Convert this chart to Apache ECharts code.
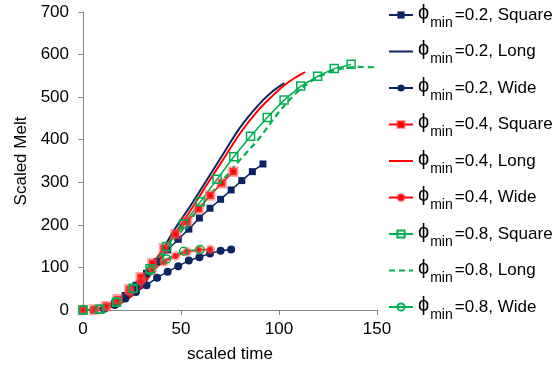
<!DOCTYPE html>
<html>
<head>
<meta charset="utf-8">
<script src="https://cdn.jsdelivr.net/npm/echarts@6/dist/echarts.min.js"></script>
<style>
  html, body { margin: 0; padding: 0; background: #ffffff; }
  #chart { width: 553px; height: 372px; }
</style>
</head>
<body>
<div id="chart"></div>
<script>
// ---- data: scaled time (x) and scaled melt (y) for each case ----
const xTicks = [0, 50, 100, 150];
const yTicks = [0, 100, 200, 300, 400, 500, 600, 700];

// phi_min = 0.2
const tSquare02 = [0, 5.4, 10.8, 16.2, 21.6, 27, 32.4, 37.8, 43.2, 48.6, 54, 59.4, 64.8, 70.2, 75.6, 81, 86.4, 91.8];
const mSquare02 = [0, 0, 4, 16, 34, 58, 86, 114, 141, 166, 190, 216, 239, 260, 282, 304, 325, 343];
const tLong02 = [0, 10, 20, 30, 40, 46, 55, 63, 72, 80, 89, 96, 102.7];
const mLong02 = [0, 3, 20, 62, 136, 184, 246, 304, 370, 428, 479, 511, 533];
const tWide02 = [0, 5.4, 10.8, 16.2, 21.6, 27, 32.4, 37.8, 43.2, 48.6, 54, 59.4, 64.8, 70.2, 75.6];
const mWide02 = [0, 0, 3, 12, 27, 42, 58, 76, 90, 103, 116, 124, 133, 139, 142];

// phi_min = 0.4
const tSquare04 = [0, 5.9, 11.8, 17.7, 23.6, 29.5, 35.4, 41.3, 47.2, 53.1, 59, 64.9, 70.8, 76.7];
const mSquare04 = [0, 1, 9, 25, 49, 77, 110, 145, 178, 208, 238, 269, 298, 325];
const tLong04 = [0, 10, 20, 30, 40, 46, 55, 63, 72, 80, 89, 96, 103, 108, 113.3];
const mLong04 = [0, 3, 18, 55, 124, 172, 235, 293, 357, 414, 467, 500, 529, 545, 559];
const tWide04 = [0, 5.9, 11.8, 17.7, 23.6, 29.5, 35.4, 41.3, 47.2, 53.1, 59, 64.9];
const mWide04 = [0, 1, 8, 22, 43, 67, 93, 113, 127, 137, 141, 142];

// phi_min = 0.8
const tSquare08 = [0, 8.55, 17.1, 25.6, 34.2, 42.7, 51.3, 59.8, 68.4, 76.9, 85.5, 94, 102.6, 111.1, 119.7, 128.2, 136.8];
const mSquare08 = [0, 2, 18, 51, 97, 149, 202, 254, 307, 360, 408, 452, 493, 526, 549, 567, 577];
const tLong08 = [0, 10, 20, 30, 40, 50, 60, 70, 80, 90, 100, 110, 120, 130, 140, 150];
const mLong08 = [0, 3, 27, 70, 124, 184, 243, 298, 352, 404, 465, 515, 547, 565, 571, 570];
const tWide08 = [0, 8.55, 17.1, 25.6, 34.2, 42.7, 51.3, 59.8];
const mWide08 = [0, 2, 18, 50, 92, 120, 138, 142];

const NAVY = '#0c2463';
const RED = '#ff0000';
const GREEN = '#00b050';
const FONT = '"Liberation Sans", Arial, sans-serif';

function pairs(xs, ys) {
  return xs.map((x, i) => [x, ys[i]]);
}

function markerSeries(name, xs, ys, color, symbol, size, itemStyle) {
  return {
    name: name,
    type: 'line',
    data: pairs(xs, ys),
    symbol: symbol,
    symbolSize: size,
    showSymbol: true,
    lineStyle: { color: color, width: 1.5 },
    itemStyle: itemStyle,
    emphasis: { disabled: true },
    animation: false
  };
}

function curveSeries(name, xs, ys, color, dash) {
  return {
    name: name,
    type: 'line',
    data: pairs(xs, ys),
    smooth: 0.35,
    showSymbol: false,
    symbol: 'none',
    lineStyle: { color: color, width: dash ? 2.2 : 2, type: dash ? [6, 4] : 'solid' },
    itemStyle: { color: color },
    emphasis: { disabled: true },
    animation: false
  };
}

const redMarker = { color: RED, borderColor: 'rgba(255,80,80,0.5)', borderWidth: 3.5 };
const greenHollow = { color: 'rgba(255,255,255,0)', borderColor: GREEN, borderWidth: 1.5 };

const series = [
  markerSeries('0.2, Square', tSquare02, mSquare02, NAVY, 'rect', 7, { color: NAVY }),
  curveSeries('0.2, Long', tLong02, mLong02, NAVY, false),
  markerSeries('0.2, Wide', tWide02, mWide02, NAVY, 'circle', 8, { color: NAVY }),
  markerSeries('0.4, Square', tSquare04, mSquare04, RED, 'rect', 7, redMarker),
  curveSeries('0.4, Long', tLong04, mLong04, RED, false),
  markerSeries('0.4, Wide', tWide04, mWide04, RED, 'circle', 6, redMarker),
  markerSeries('0.8, Square', tSquare08, mSquare08, GREEN, 'rect', 8, greenHollow),
  curveSeries('0.8, Long', tLong08, mLong08, GREEN, true),
  markerSeries('0.8, Wide', tWide08, mWide08, GREEN, 'circle', 8, greenHollow)
];

// legend entries: plain curves show only their line
const legendData = series.map(s => s.showSymbol === false
  ? { name: s.name, itemStyle: { opacity: 0 } }
  : { name: s.name });

const chart = echarts.init(document.getElementById('chart'), null, { renderer: 'canvas' });

chart.setOption({
  backgroundColor: '#ffffff',
  animation: false,
  textStyle: { fontFamily: FONT },
  grid: { left: 83, right: 176, top: 12, bottom: 62, containLabel: false },
  xAxis: {
    type: 'value',
    min: xTicks[0],
    max: xTicks[xTicks.length - 1],
    interval: 50,
    name: 'scaled time',
    nameLocation: 'middle',
    nameGap: 36,
    nameTextStyle: { fontSize: 17, color: '#000', fontFamily: FONT },
    axisLine: { show: true, lineStyle: { color: '#868686', width: 1 } },
    axisTick: { show: true, inside: false, length: 5, lineStyle: { color: '#868686' } },
    axisLabel: { fontSize: 17, color: '#000', margin: 11, fontFamily: FONT },
    splitLine: { show: false }
  },
  yAxis: {
    type: 'value',
    min: yTicks[0],
    max: yTicks[yTicks.length - 1],
    interval: 100,
    name: 'Scaled Melt',
    nameLocation: 'middle',
    nameGap: 50,
    nameTextStyle: { fontSize: 17, color: '#000', fontFamily: FONT },
    axisLine: { show: true, lineStyle: { color: '#868686', width: 1 } },
    axisTick: { show: true, inside: false, length: 5, lineStyle: { color: '#868686' } },
    axisLabel: { fontSize: 17, color: '#000', margin: 14, fontFamily: FONT },
    splitLine: { show: false }
  },
  legend: {
    orient: 'vertical',
    left: 383,
    top: -2,
    itemWidth: 24,
    itemHeight: 9,
    itemGap: 9.5,
    selectedMode: false,
    data: legendData,
    formatter: name => '{phi|\u03d5}{sub|min}{txt|=' + name + '}',
    textStyle: {
      fontFamily: FONT,
      color: '#000',
      rich: {
        phi: { fontSize: 20, lineHeight: 30, fontFamily: FONT, color: '#000', padding: [0, 1, 4, 0] },
        sub: { fontSize: 14, lineHeight: 12, verticalAlign: 'bottom', fontFamily: FONT, color: '#000' },
        txt: { fontSize: 17, lineHeight: 30, fontFamily: FONT, color: '#000', padding: [0, 0, 0, 2] }
      }
    }
  },
  series: series
});
</script>
</body>
</html>
